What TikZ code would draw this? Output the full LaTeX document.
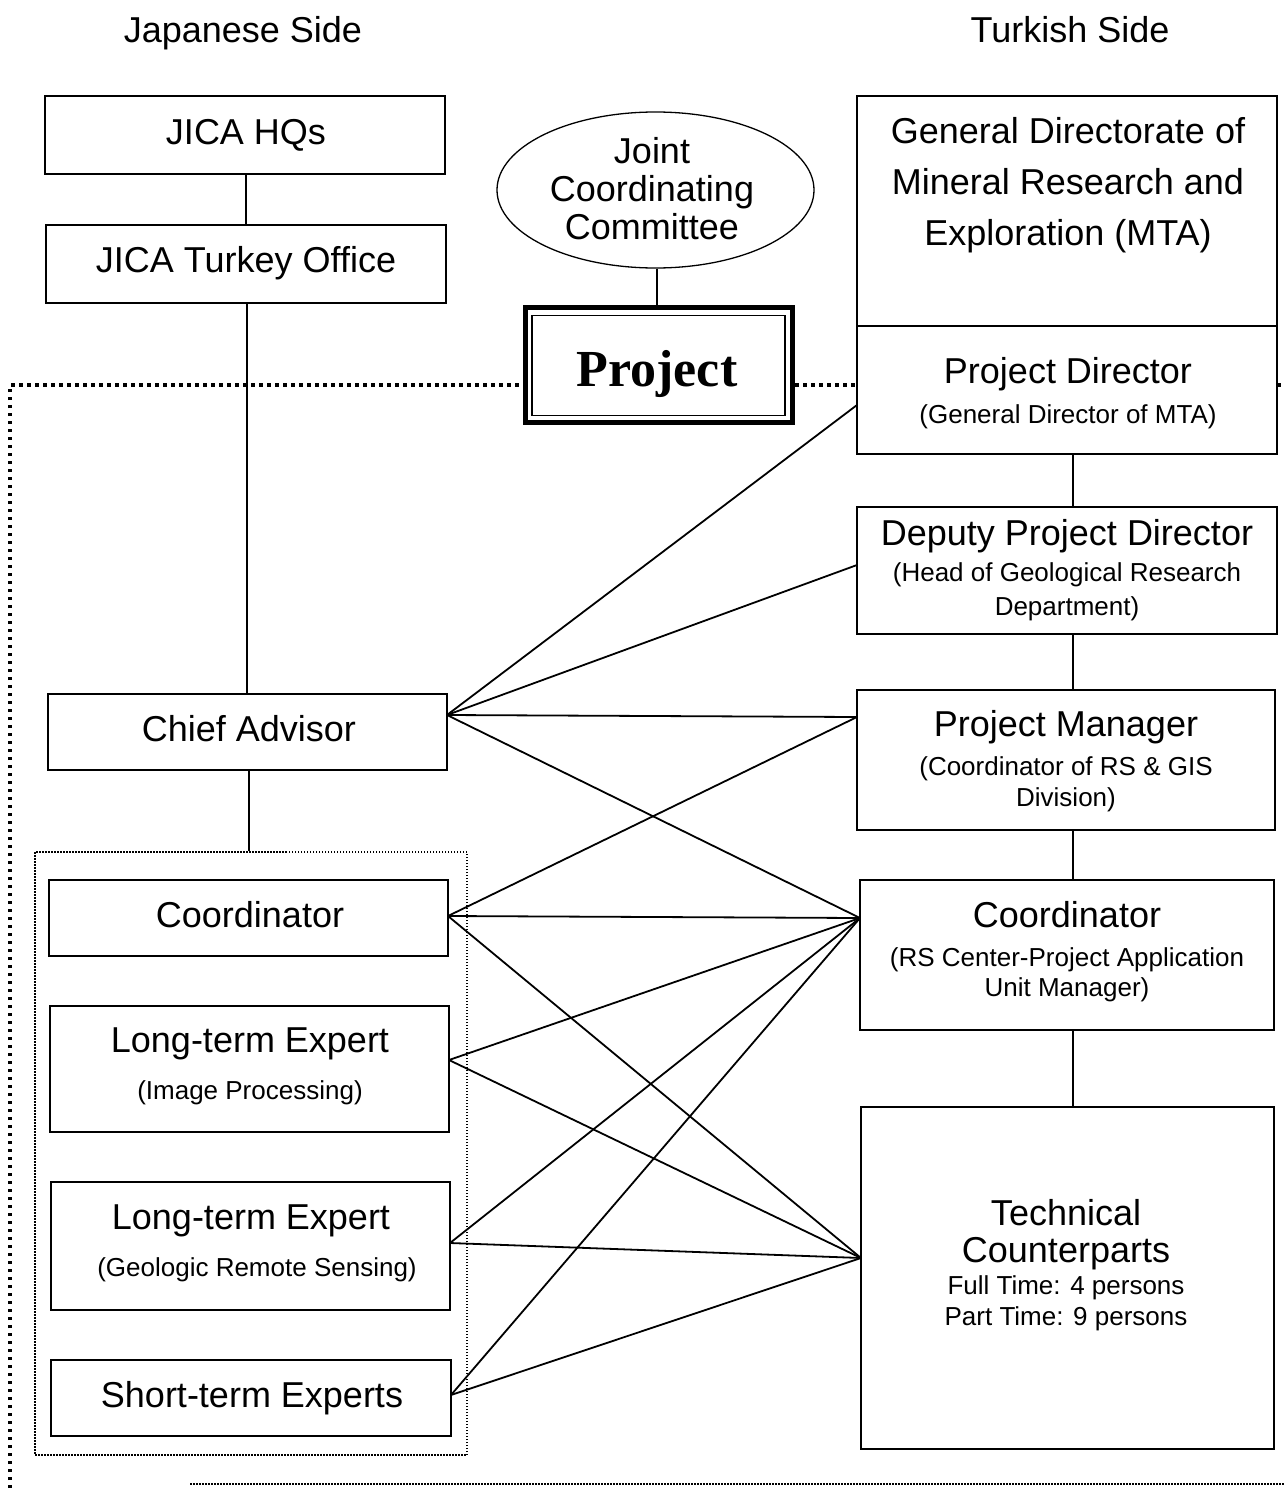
\documentclass[tikz,border=0pt]{standalone}
\usepackage{fontspec}
\setmainfont{Liberation Sans}
\newfontfamily\projserif{Liberation Serif}
\usetikzlibrary{shapes.geometric}
\begin{document}
\begin{tikzpicture}[x=1pt,y=-1pt,
  box/.style={draw, line width=1.8pt, inner sep=0pt},
  big/.style={font=\fontsize{36}{40}\selectfont, anchor=base, inner sep=0pt},
  small/.style={font=\fontsize{26}{30}\selectfont, anchor=base, inner sep=0pt},
  conn/.style={line width=1.8pt},
  bigdots/.style={line width=3.5pt, dash pattern=on 3.5pt off 4.5pt},
  finedots/.style={line width=1.3pt, dash pattern=on 1.5pt off 1.5pt}]
\useasboundingbox (0,0) rectangle (1285,1488);
\fill[white] (0,0) rectangle (1285,1488);

% headings
\node[big] (jside) at (243,43) {Japanese Side};
\node[big] (tside) at (1070,43) {Turkish Side};

% Japanese side boxes
\node[box, minimum width=400pt, minimum height=78pt] (hq) at (245,135) {};
\node[big] (hqt) at (246,144) {JICA HQs};
\node[box, minimum width=400pt, minimum height=78pt] (jto) at (246,264) {};
\node[big] (jtot) at (246,272) {JICA Turkey Office};
\node[box, minimum width=399pt, minimum height=76pt] (ca) at (247.5,732) {};
\node[big] (cat) at (249,741) {Chief Advisor};

\node[finedots, draw, minimum width=432pt, minimum height=603pt, inner sep=0pt] (grp) at (251,1153.5) {};
\node[box, minimum width=399pt, minimum height=76pt] (co) at (248.5,918) {};
\node[big] (cot) at (250,927) {Coordinator};
\node[box, minimum width=399pt, minimum height=126pt] (lte1) at (249.5,1069) {};
\node[big] (lte1t) at (250,1052) {Long-term Expert};
\node[small] (lte1s) at (250,1099) {(Image Processing)};
\node[box, minimum width=399pt, minimum height=128pt] (lte2) at (250.5,1246) {};
\node[big] (lte2t) at (251,1229) {Long-term Expert};
\node[small] (lte2s) at (257,1276) {(Geologic Remote Sensing)};
\node[box, minimum width=400pt, minimum height=76pt] (ste) at (251,1398) {};
\node[big] (stet) at (252,1407) {Short-term Experts};

% centre
\node[draw, ellipse, line width=1.3pt, minimum width=317pt, minimum height=156pt, inner sep=0pt] (jcc) at (655.5,190) {};
\node[big] (jcc1) at (652,163) {Joint};
\node[big] (jcc2) at (652,201) {Coordinating};
\node[big] (jcc3) at (652,239) {Committee};
\node[draw, line width=5pt, minimum width=267pt, minimum height=115pt, inner sep=0pt] (proj) at (659,365) {};
\node[draw, line width=1.8pt, minimum width=253pt, minimum height=100pt, inner sep=0pt] (projin) at (658.5,365.5) {};
\node[anchor=base, inner sep=0pt, font=\projserif\bfseries\fontsize{52}{56}\selectfont] (projt) at (657,386) {Project};

% Turkish side boxes
\node[box, minimum width=420pt, minimum height=358pt] (mta) at (1067,275) {};
\coordinate (divL) at (857,326);
\coordinate (divR) at (1277,326);
\node[big] (mta1) at (1068,143) {General Directorate of};
\node[big] (mta2) at (1068,194) {Mineral Research and};
\node[big] (mta3) at (1068,245) {Exploration (MTA)};
\node[big] (pdt) at (1068,383) {Project Director};
\node[small] (pds) at (1068,423) {(General Director of MTA)};

\node[box, minimum width=420pt, minimum height=127pt] (dpd) at (1067,570.5) {};
\node[big] (dpdt) at (1067,545) {Deputy Project Director};
\node[small] (dpd1) at (1067,581) {(Head of Geological Research};
\node[small] (dpd2) at (1067,615) {Department)};

\node[box, minimum width=418pt, minimum height=140pt] (pm) at (1066,760) {};
\node[big] (pmt) at (1066,736) {Project Manager};
\node[small] (pm1) at (1066,775) {(Coordinator of RS \& GIS};
\node[small] (pm2) at (1066,806) {Division)};

\node[box, minimum width=414pt, minimum height=150pt] (cor) at (1067,955) {};
\node[big] (cort) at (1067,927) {Coordinator};
\node[small] (cor1) at (1067,966) {(RS Center-Project Application};
\node[small] (cor2) at (1067,996) {Unit Manager)};

\node[box, minimum width=413pt, minimum height=342pt] (tc) at (1067.5,1278) {};
\node[big] (tc1) at (1066,1225) {Technical};
\node[big] (tc2) at (1066,1262) {Counterparts};
\node[small] (tc3) at (1066,1294) {Full Time: 4 persons};
\node[small] (tc4) at (1066,1325) {Part Time: 9 persons};

% MTA divider
\draw[line width=1.8pt] (divL) -- (divR);

% vertical hierarchy lines
\draw[conn] ([xshift=1pt]hq.south) -- (jto.north);
\draw[conn] ([xshift=1pt]jto.south) -- ([xshift=-0.5pt]ca.north);
\draw[conn] ([xshift=1.5pt]ca.south) -- ([xshift=1.5pt]ca.south |- grp.north);
\draw[conn] (jcc.south -| projt) -- (projt |- proj.north);
\draw[conn] ([xshift=6pt]mta.south) -- ([xshift=6pt]dpd.north);
\draw[conn] ([xshift=6pt]dpd.south) -- ([xshift=7pt]pm.north);
\draw[conn] ([xshift=7pt]pm.south) -- ([xshift=6pt]cor.north);
\draw[conn] ([xshift=6pt]cor.south) -- ([xshift=5.5pt]tc.north);

% connector ports
\coordinate (caR) at (447,715);
\coordinate (coR) at (448,916);
\coordinate (lte1R) at (449,1060);
\coordinate (lte2R) at (450,1243);
\coordinate (steR) at (451,1395);
\coordinate (pdL) at (857,405);
\coordinate (dpdL) at (857,565);
\coordinate (pmL) at (857,717);
\coordinate (corL) at (860,918);
\coordinate (tcL) at (861,1258);

\draw[conn] (caR) -- (pdL);
\draw[conn] (caR) -- (dpdL);
\draw[conn] (caR) -- (pmL);
\draw[conn] (caR) -- (corL);
\draw[conn] (coR) -- (pmL);
\draw[conn] (coR) -- (corL);
\draw[conn] (coR) -- (tcL);
\draw[conn] (lte1R) -- (corL);
\draw[conn] (lte1R) -- (tcL);
\draw[conn] (lte2R) -- (corL);
\draw[conn] (lte2R) -- (tcL);
\draw[conn] (steR) -- (corL);
\draw[conn] (steR) -- (tcL);

% dotted project frame
\coordinate (fTL) at (10,385);
\coordinate (fBL) at (10,1488);
\coordinate (fB1) at (190,1484);
\coordinate (fB2) at (1285,1484);
\coordinate (fTR) at (1285,385);
\draw[bigdots] (fBL) -- (fTL) -- (fTL -| proj.west);
\draw[bigdots] (proj.east |- fTL) -- (mta.west |- fTL);
\draw[bigdots] (mta.east |- fTL) -- (fTR);
\draw[finedots] (fB1) -- (fB2);
\end{tikzpicture}
\end{document}
